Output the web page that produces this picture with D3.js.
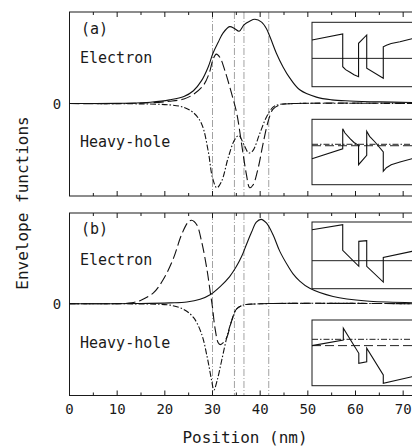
<!DOCTYPE html>
<html lang="en">
<head>
<meta charset="UTF-8">
<title>Envelope functions</title>
<script src="https://d3js.org/d3.v7.min.js"></script>
<style>
  body { margin: 0; background: #fff; }
  text { font-family: "DejaVu Sans Mono", monospace; fill: #1a1a1a; }
  .frame { fill: none; stroke: #1a1a1a; stroke-width: 1; }
  .tick { stroke: #1a1a1a; stroke-width: 1; }
  .guide { stroke: #8a8a8a; stroke-width: 0.8; stroke-dasharray: 7,2,1,2; }
  .curve { fill: none; stroke: #111; stroke-width: 1.1; }
</style>
</head>
<body>
<script>
// x in nm, y in relative units (zero baseline, ~1 = full height above zero)
const xTicks = [0, 10, 20, 30, 40, 50, 60, 70];
const minorTicks = [5, 15, 25, 35, 45, 55, 65];
const interfaces = [30, 34.6, 36.6, 41.8];

// panel (a)
const aElectron = [[0,0],[10,0.002],[15,0.008],[17,0.014],[21,0.04],[24,0.077],[26,0.14],[27.7,0.25],[29.1,0.40],[30.1,0.55],[31.2,0.67],[32.2,0.77],[33.6,0.84],[34.6,0.82],[35.6,0.79],[36.6,0.86],[37.8,0.90],[38.9,0.92],[40.3,0.89],[41.3,0.82],[42.2,0.71],[43.4,0.55],[44.8,0.40],[46.2,0.28],[48.3,0.15],[51.8,0.07],[55,0.04],[58.8,0.028],[65,0.018],[72,0.012],[75,0.01]];
const aElectronB = [[0,0],[15,0.004],[21,0.025],[24,0.05],[26,0.10],[28.1,0.20],[29.3,0.33],[30.1,0.48],[30.8,0.54],[31.6,0.50],[32.6,0.36],[34.0,0.11],[35.1,-0.11],[36.1,-0.44],[37.1,-0.77],[37.8,-0.92],[38.5,-0.89],[39.6,-0.70],[40.6,-0.44],[41.7,-0.19],[42.7,-0.06],[44.1,-0.015],[47,0],[75,0]];
const aHole = [[0,0],[15,-0.004],[21,-0.015],[23.9,-0.04],[26,-0.10],[27.7,-0.22],[29.1,-0.52],[30.0,-0.81],[30.9,-0.92],[31.9,-0.85],[33.3,-0.59],[34.6,-0.40],[35.5,-0.35],[36.6,-0.45],[37.6,-0.54],[38.4,-0.52],[39.9,-0.33],[41.3,-0.15],[42.7,-0.04],[44,-0.01],[47,0],[75,0]];

// panel (b)
const bElectron = [[0,0],[15,0.003],[21.1,0.01],[24.6,0.02],[27.4,0.05],[29.5,0.10],[31.6,0.19],[33.6,0.30],[35.0,0.41],[36.1,0.52],[37.1,0.65],[38.2,0.79],[39.2,0.90],[40.2,0.93],[41.3,0.89],[42.7,0.76],[44.1,0.58],[45.9,0.41],[46.9,0.33],[48.3,0.25],[50.4,0.17],[55.3,0.08],[62.3,0.03],[72,0.012],[75,0.01]];
const bElectronB = [[0,0],[10,0.002],[13,0.01],[15,0.04],[17.6,0.12],[19.7,0.27],[21.8,0.50],[23.5,0.76],[24.9,0.90],[25.6,0.92],[26.7,0.87],[27.7,0.69],[28.8,0.39],[29.5,0.14],[30.0,-0.04],[30.5,-0.26],[31.2,-0.43],[31.6,-0.45],[32.2,-0.43],[33.0,-0.37],[34.0,-0.19],[35.0,-0.06],[36.4,-0.015],[40,0],[75,0]];
const bHole = [[0,0],[18,-0.004],[21.1,-0.015],[23.9,-0.06],[26,-0.15],[27.7,-0.33],[28.9,-0.59],[29.8,-0.84],[30.3,-0.95],[31.0,-0.84],[31.9,-0.63],[33.0,-0.37],[34.0,-0.19],[35.0,-0.06],[36.4,-0.015],[40,0],[75,0]];

// band-profile insets, both axes 0..100 inside each box
const insetA1 = [[0,72.5],[25.6,81.8],[25.6,31],[28,26.5],[31.7,22.4],[35,18.5],[38.8,15.5],[38.8,67.4],[45.6,80.3],[45.6,28.6],[59.4,13],[59.4,62],[62,64.5],[66,67],[73.3,69.9],[83.3,74.4],[100,79]];
const insetA1Levels = [{ y: 44, dash: null }];
const insetA2 = [[0,39.8],[25.6,55],[25.6,85.6],[27.5,79],[31.7,70.3],[35,64.5],[38.8,60.2],[38.8,30.6],[45.6,45],[45.6,81.7],[48,74],[52.5,65.3],[59.4,50],[59.4,20.5],[62,26],[66,30.5],[73.3,34.7],[83.3,39.8],[100,45]];
const insetA2Levels = [{ y: 61.8, dash: "6,2,1.5,2" }, { y: 59.6, dash: "9,4" }];
const insetB1 = [[0,88.5],[25.6,96],[25.6,57.6],[39,33.6],[39,71],[45.6,72],[45.6,33.6],[59.4,10],[59.4,47],[83.3,56],[100,61]];
const insetB1Levels = [{ y: 42, dash: null }];
const insetB2 = [[0,61],[26.1,69.6],[26.1,87.4],[39,49.3],[39,34],[45.6,36.5],[45.6,57],[59.4,16.3],[59.4,3.7],[83.3,13.7],[100,19]];
const insetB2Levels = [{ y: 70.6, dash: "6,2,1.5,2" }, { y: 61, dash: "9,4" }];

const width = 412, height = 446;
const svg = d3.select("body").append("svg")
  .attr("width", width).attr("height", height);

const x = d3.scaleLinear().domain([0, 75]).range([69.5, 427]);

const panels = [
  { label: "(a)", top: 12, bottom: 196, e: aElectron, eb: aElectronB, h: aHole,
    insets: [{ top: 22.3, bottom: 86.7, data: insetA1, levels: insetA1Levels },
             { top: 119.3, bottom: 184.7, data: insetA2, levels: insetA2Levels }],
    lab: [34, 63.3, 146.7] },
  { label: "(b)", top: 213, bottom: 395.5, e: bElectron, eb: bElectronB, h: bHole,
    insets: [{ top: 222, bottom: 288.7, data: insetB1, levels: insetB1Levels },
             { top: 320, bottom: 385.7, data: insetB2, levels: insetB2Levels }],
    lab: [234, 264.5, 348] }
];

panels.forEach(p => {
  const y = d3.scaleLinear().domain([-1.01, 1]).range([p.bottom, p.top]);
  const g = svg.append("g");

  // interface guides
  g.selectAll(".guide").data(interfaces).enter().append("line")
    .attr("class", "guide")
    .attr("x1", d => x(d)).attr("x2", d => x(d))
    .attr("y1", p.top).attr("y2", p.bottom);

  // frame
  g.append("rect").attr("class", "frame")
    .attr("x", x(0)).attr("y", p.top)
    .attr("width", x(75) - x(0)).attr("height", p.bottom - p.top);

  // inward ticks, top and bottom
  const tk = xTicks.map(v => ({ v, len: 5 })).concat(minorTicks.map(v => ({ v, len: 3 })));
  g.selectAll(".tb").data(tk).enter().append("line").attr("class", "tick")
    .attr("x1", d => x(d.v)).attr("x2", d => x(d.v))
    .attr("y1", p.bottom).attr("y2", d => p.bottom - d.len);
  g.selectAll(".tt").data(tk).enter().append("line").attr("class", "tick")
    .attr("x1", d => x(d.v)).attr("x2", d => x(d.v))
    .attr("y1", p.top).attr("y2", d => p.top + d.len);

  g.append("text").attr("x", 57).attr("y", y(0) + 5)
    .attr("text-anchor", "middle").attr("font-size", 14).text("0");

  const line = d3.line().x(d => x(d[0])).y(d => y(d[1])).curve(d3.curveCatmullRom.alpha(0.5));
  g.append("path").attr("class", "curve").attr("d", line(p.h))
    .attr("stroke", "#333").attr("stroke-dasharray", "6,2,1.5,2");
  g.append("path").attr("class", "curve").attr("d", line(p.eb))
    .attr("stroke-dasharray", "10,4");
  g.append("path").attr("class", "curve").attr("d", line(p.e));

  // insets
  p.insets.forEach(ins => {
    const ix = d3.scaleLinear().domain([0, 100]).range([312, 432]);
    const iy = d3.scaleLinear().domain([0, 100]).range([ins.bottom, ins.top]);
    g.append("rect").attr("x", ix(0)).attr("y", ins.top)
      .attr("width", ix(100) - ix(0) + 10).attr("height", ins.bottom - ins.top)
      .attr("fill", "#fff").attr("stroke", "#1a1a1a").attr("stroke-width", 1);
    ins.levels.forEach(l => {
      g.append("line").attr("x1", ix(0)).attr("x2", ix(100))
        .attr("y1", iy(l.y)).attr("y2", iy(l.y))
        .attr("stroke", "#222").attr("stroke-width", 1)
        .attr("stroke-dasharray", l.dash);
    });
    const il = d3.line().x(d => ix(d[0])).y(d => iy(d[1]));
    g.append("path").attr("d", il(ins.data))
      .attr("fill", "none").attr("stroke", "#111").attr("stroke-width", 1.1);
  });

  g.append("text").attr("x", 81).attr("y", p.lab[0]).attr("font-size", 15).text(p.label);
  g.append("text").attr("x", 80).attr("y", p.lab[1]).attr("font-size", 15).text("Electron");
  g.append("text").attr("x", 80).attr("y", p.lab[2]).attr("font-size", 15).text("Heavy-hole");
});

// bottom tick labels
svg.selectAll(".xl").data(xTicks).enter().append("text")
  .attr("x", d => x(d)).attr("y", 414)
  .attr("text-anchor", "middle").attr("font-size", 14)
  .text(d => d);

svg.append("text").attr("x", 245).attr("y", 443)
  .attr("text-anchor", "middle").attr("font-size", 16).text("Position (nm)");

svg.append("text")
  .attr("transform", "translate(28,203) rotate(-90)")
  .attr("text-anchor", "middle").attr("font-size", 16).text("Envelope functions");
</script>
</body>
</html>
